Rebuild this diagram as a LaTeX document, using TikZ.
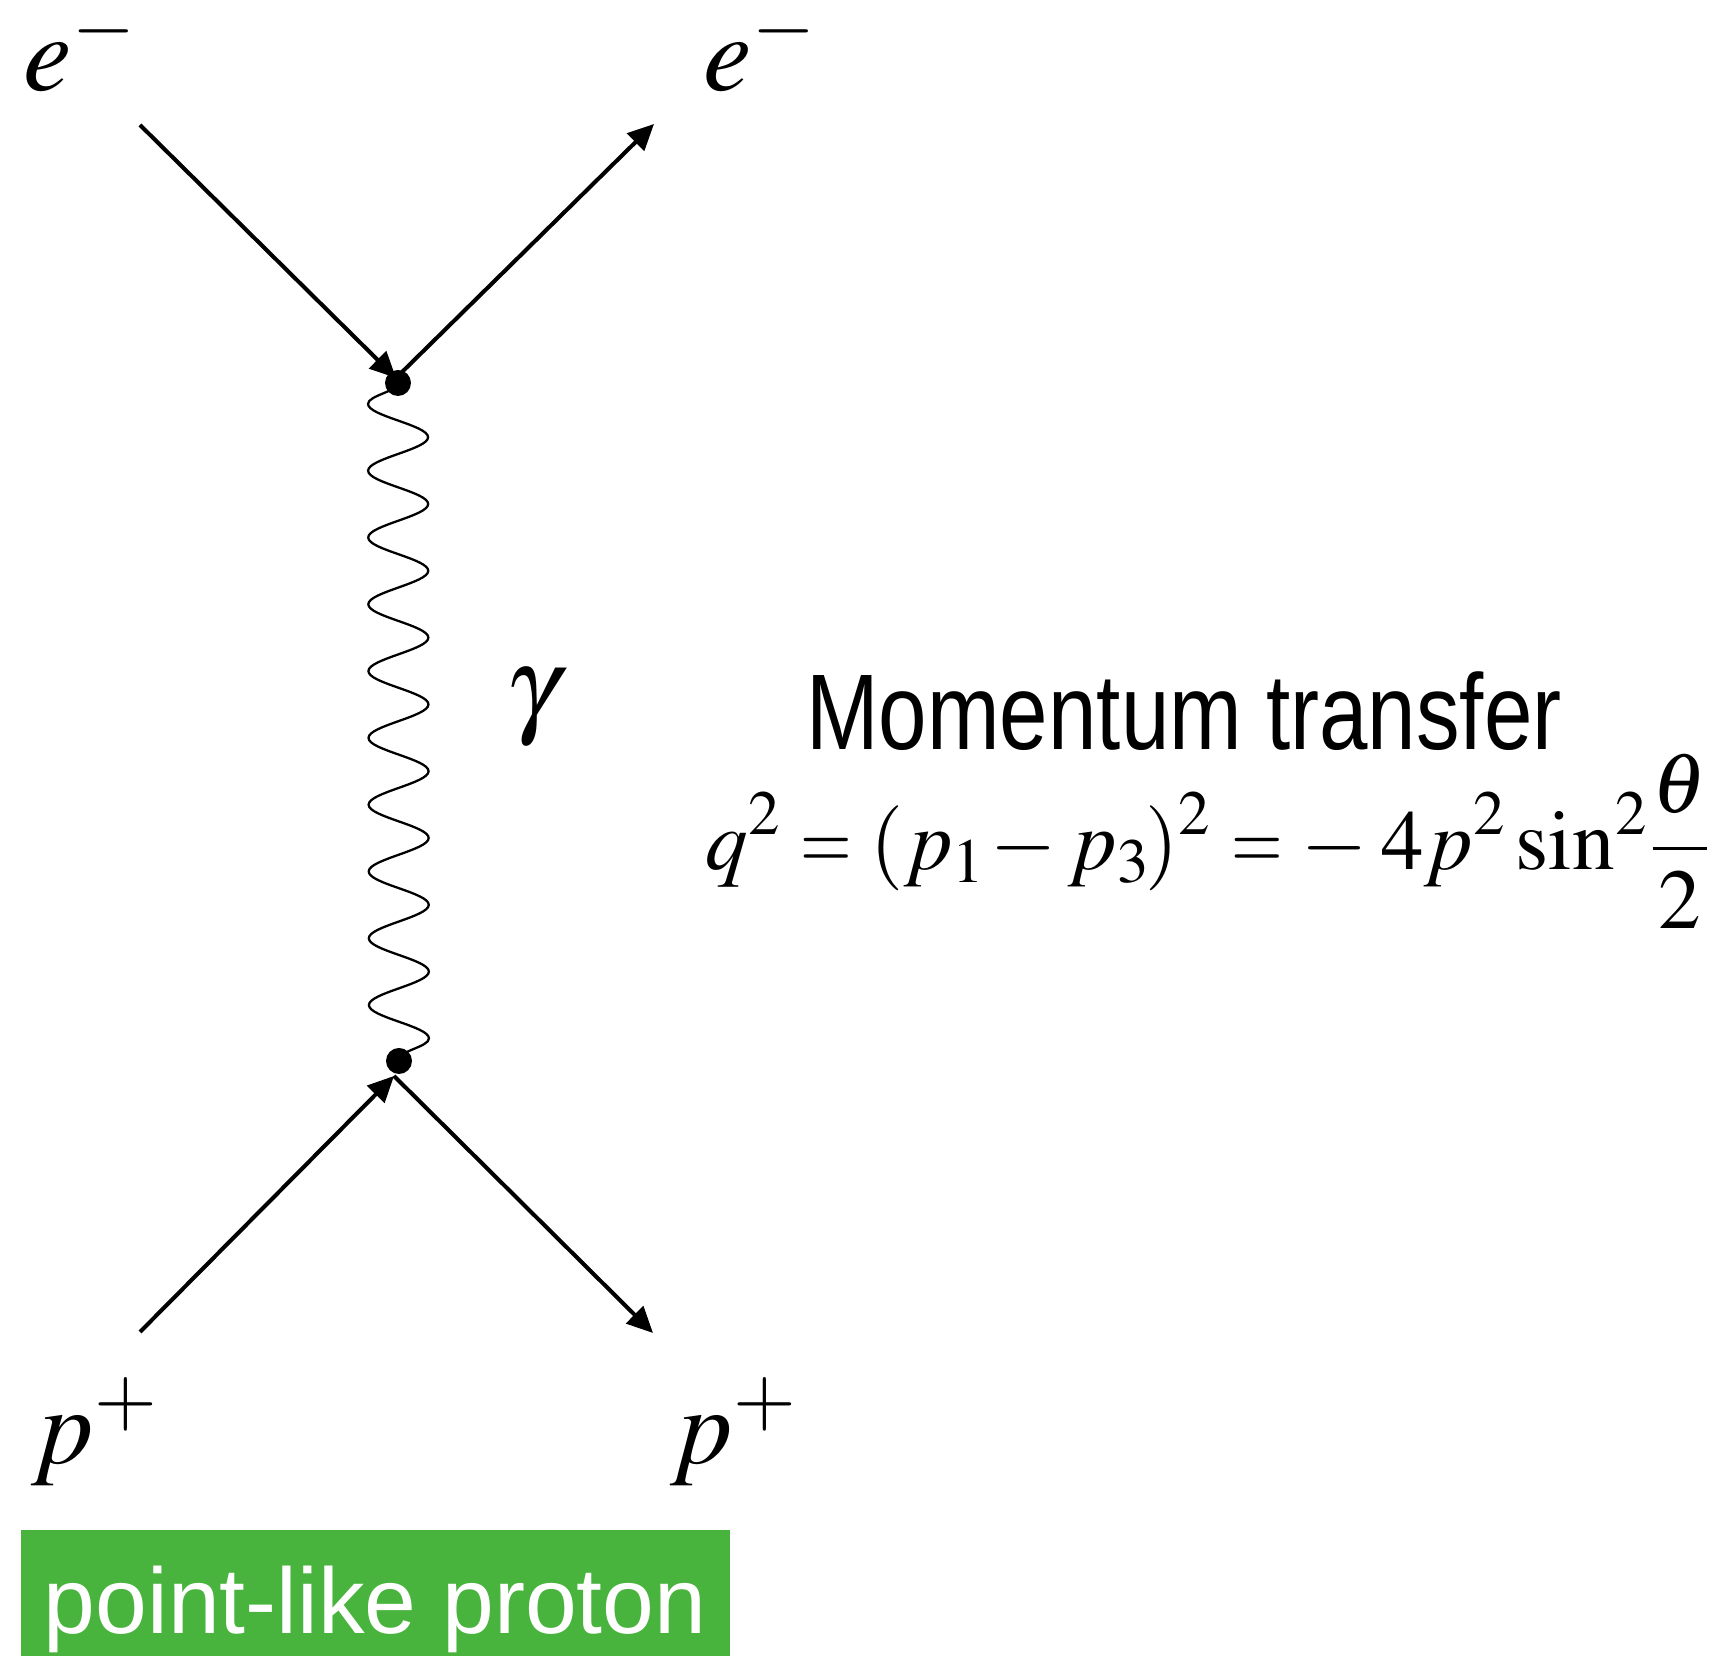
\documentclass[tikz,border=0pt]{standalone}
\usepackage{amsmath}
\usepackage{graphicx}
\usepackage{mathptmx}
\usepackage[no-math]{fontspec}
\usepackage{tikz}
\usetikzlibrary{arrows.meta,decorations.pathmorphing}
\newfontfamily\condsans[FakeStretch=0.81]{Liberation Sans}
\newfontfamily\tagsans{Liberation Sans}
\newcommand\teq{\mathrel{\scalebox{0.78}[1]{$=$}}}
\definecolor{fdGreen}{HTML}{48B43D}

\begin{document}
\begin{tikzpicture}[
  lbl/.style={inner sep=0pt, anchor=base west, font=\fontsize{31}{36}\selectfont},
  fermion/.style={line width=1.15pt, -{Triangle[length=2.6mm,width=2.4mm]}},
  photon/.style={line width=0.65pt, decorate, decoration={snake, amplitude=-3mm, segment length=6.68mm}},
  vtx/.style={circle, fill=black, inner sep=0pt, minimum size=2.6mm},
  tag/.style={fill=fdGreen, text=white, font=\tagsans\fontsize{26.5}{30}\selectfont, inner sep=0pt,
              minimum width=7.09cm, text height=1.03cm, text depth=0.23cm, anchor=south west},
]
\useasboundingbox (0,0) rectangle (17.16,16.57);

% ---- Vertices ----
\coordinate (jtop) at (3.96,12.79);
\coordinate (jbot) at (3.94,5.81);
\node[vtx] (vtop) at (3.98,12.74) {};
\node[vtx] (vbot) at (3.99,5.96) {};

% ---- External legs ----
\coordinate (ein)  at (1.40,15.32);
\coordinate (eout) at (6.54,15.33);
\coordinate (pin)  at (1.40,3.25);
\coordinate (pout) at (6.53,3.24);

\draw[fermion] (ein) -- (jtop);
\draw[fermion] (jtop) -- (eout);
\draw[fermion] (pin) -- (jbot);
\draw[fermion] (jbot) -- (pout);

% ---- Photon ----
\draw[photon] (vtop.center) -- (vbot.center);

% ---- Labels ----
\node[lbl] (elin)  at (0.23,15.66) {$e^-$};
\node[lbl] (elout) at (7.03,15.66) {$e^-$};
\node[lbl] (plin)  at (0.31,1.93) {$p^+$};
\node[lbl] (plout) at (6.70,1.93) {$p^+$};
\node[lbl, anchor=center] (gam) at (5.32,9.49) {$\gamma$};

% ---- Momentum transfer ----
\node[inner sep=0pt, anchor=base, font=\condsans\fontsize{30.6}{36}\selectfont] (mt) at (11.84,9.07)
     {Momentum transfer};
\node[inner sep=0pt, anchor=base west, font=\fontsize{24.2}{30}\selectfont] (qsq) at (7.05,7.87)
     {$\displaystyle q^2 \teq (p_1\mkern-1.5mu - p_3\mkern-1mu)^2 \teq -\mkern3mu 4p^2 \sin^2\!\frac{\theta}{2}$};

% ---- Tag ----
\node[tag] (point) at (0.20,0) {point-like proton};

\end{tikzpicture}
\end{document}
